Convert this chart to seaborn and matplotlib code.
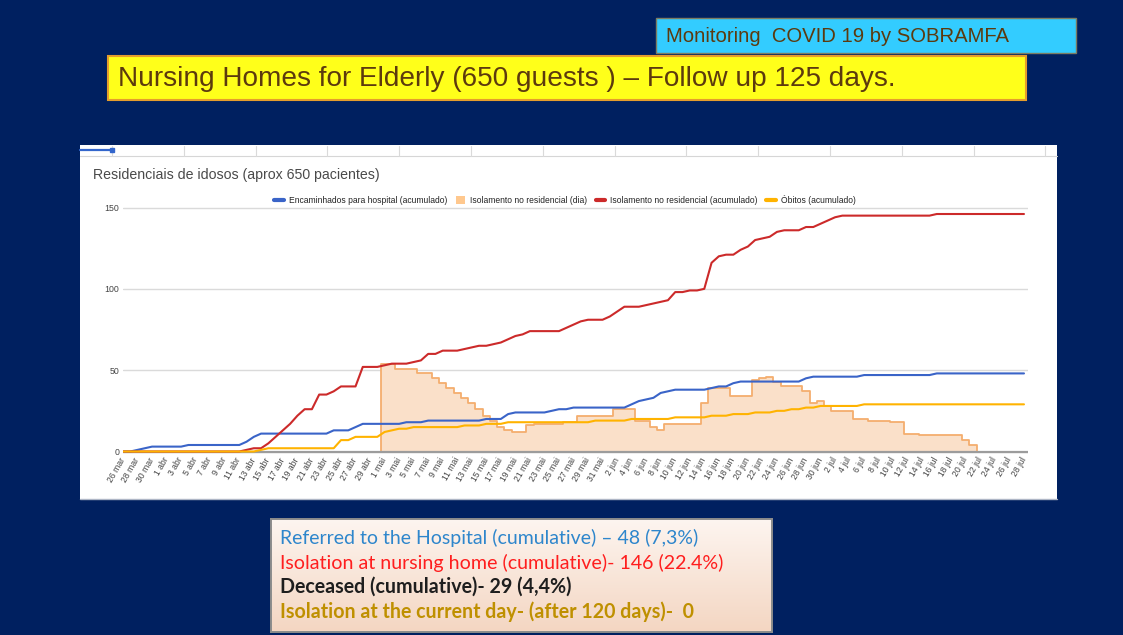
import numpy as np
import pandas as pd
import matplotlib
matplotlib.use("Agg")
import matplotlib.pyplot as plt
import seaborn as sns
from matplotlib.patches import Rectangle, Patch
from matplotlib.lines import Line2D
from matplotlib.colors import LinearSegmentedColormap

# ---------------- data ----------------
START_DATE = "2020-03-26"
N_DAYS = 125
MONTHS_PT = {3: "mar", 4: "abr", 5: "mai", 6: "jun", 7: "jul"}

hospital_cum = [
    0, 0, 1, 2, 3, 3, 3, 3, 3, 4,
    4, 4, 4, 4, 4, 4, 4, 6, 9, 11,
    11, 11, 11, 11, 11, 11, 11, 11, 11, 13,
    13, 13, 15, 17, 17, 17, 17, 17, 17, 18,
    18, 18, 19, 19, 19, 19, 19, 19, 19, 19,
    20, 20, 20, 23, 24, 24, 24, 24, 24, 25,
    26, 26, 27, 27, 27, 27, 27, 27, 27, 27,
    29, 31, 32, 33, 36, 37, 38, 38, 38, 38,
    38, 39, 40, 40, 42, 43, 43, 43, 43, 43,
    43, 43, 43, 43, 45, 46, 46, 46, 46, 46,
    46, 46, 47, 47, 47, 47, 47, 47, 47, 47,
    47, 47, 48, 48, 48, 48, 48, 48, 48, 48,
    48, 48, 48, 48, 48,
]

isolation_day = [
    0, 0, 0, 0, 0, 0, 0, 0, 0, 0,
    0, 0, 0, 0, 0, 0, 0, 0, 0, 0,
    0, 0, 0, 0, 0, 0, 0, 0, 0, 0,
    0, 0, 0, 0, 0, 0, 54, 54, 51, 51,
    51, 48, 48, 45, 42, 39, 36, 33, 30, 26,
    22, 19, 15, 13, 12, 12, 16, 17, 17, 17,
    17, 18, 18, 22, 22, 22, 22, 22, 26, 26,
    26, 19, 19, 15, 13, 17, 17, 17, 17, 17,
    30, 39, 39, 39, 34, 34, 34, 44, 45, 46,
    43, 40, 40, 40, 37, 30, 31, 28, 25, 25,
    25, 20, 20, 19, 19, 19, 18, 18, 11, 11,
    10, 10, 10, 10, 10, 10, 7, 4, 0, 0,
    0, 0, 0, 0, 0,
]

isolation_cum = [
    0, 0, 0, 0, 0, 0, 0, 0, 0, 0,
    0, 0, 0, 0, 0, 0, 0, 1, 2, 2,
    5, 9, 13, 17, 22, 26, 26, 35, 35, 37,
    40, 40, 40, 52, 52, 52, 53, 54, 54, 54,
    55, 56, 60, 60, 62, 62, 62, 63, 64, 65,
    65, 66, 67, 69, 71, 72, 74, 74, 74, 74,
    74, 76, 78, 80, 81, 81, 81, 83, 86, 89,
    89, 89, 90, 91, 92, 93, 98, 98, 99, 99,
    100, 116, 120, 121, 121, 124, 126, 130, 131, 132,
    135, 136, 136, 136, 138, 138, 140, 142, 144, 145,
    145, 145, 145, 145, 145, 145, 145, 145, 145, 145,
    145, 145, 146, 146, 146, 146, 146, 146, 146, 146,
    146, 146, 146, 146, 146,
]

deaths_cum = [
    0, 0, 0, 0, 0, 0, 0, 0, 0, 0,
    0, 0, 0, 0, 0, 0, 0, 0, 0, 1,
    2, 2, 2, 2, 2, 2, 2, 2, 2, 2,
    7, 7, 9, 9, 9, 9, 12, 13, 14, 14,
    15, 15, 15, 15, 15, 15, 15, 16, 16, 16,
    17, 17, 17, 18, 18, 18, 18, 18, 18, 18,
    18, 18, 18, 18, 18, 19, 19, 19, 19, 19,
    20, 20, 20, 20, 20, 20, 21, 21, 21, 21,
    21, 22, 22, 22, 23, 23, 23, 24, 24, 24,
    25, 25, 26, 26, 27, 27, 28, 28, 28, 28,
    28, 28, 29, 29, 29, 29, 29, 29, 29, 29,
    29, 29, 29, 29, 29, 29, 29, 29, 29, 29,
    29, 29, 29, 29, 29,
]

series_names = [
    "Encaminhados para hospital (acumulado)",
    "Isolamento no residencial (dia)",
    "Isolamento no residencial (acumulado)",
    "Óbitos (acumulado)",
]
y_ticks = [0, 50, 100, 150]

slide_tag = "Monitoring  COVID 19 by SOBRAMFA"
slide_title = "Nursing Homes for Elderly (650 guests ) – Follow up 125 days."
chart_title = "Residenciais de idosos (aprox 650 pacientes)"
summary_lines = [
    "Referred to the Hospital (cumulative) – 48 (7,3%)",
    "Isolation at nursing home (cumulative)- 146 (22.4%)",
    "Deceased (cumulative)- 29 (4,4%)",
    "Isolation at the current day- (after 120 days)-  0",
]

# ---------------- style ----------------
BLUE = "#3A64C8"
RED = "#CC2A2A"
YELLOW = "#FFB300"
ORANGE_EDGE = "#F4AE6E"
ORANGE_FILL = "#FAE0C9"
NAVY = "#002060"

W, H, DPI = 1123, 635, 100
sns.set_theme(style="white")
plt.rcParams["font.family"] = ["Liberation Sans", "DejaVu Sans"]

fig = plt.figure(figsize=(W / DPI, H / DPI), dpi=DPI)
fig.patch.set_facecolor(NAVY)
renderer = fig.canvas.get_renderer()


def fx(x):
    return x / W


def fy(y):
    return 1 - y / H


def box(x0, y0, x1, y1, **kw):
    r = Rectangle((fx(x0), fy(y1)), (x1 - x0) / W, (y1 - y0) / H,
                  transform=fig.transFigure, **kw)
    fig.add_artist(r)
    return r


def seg(xs, ys, **kw):
    fig.add_artist(Line2D([fx(v) for v in xs], [fy(v) for v in ys],
                          transform=fig.transFigure, **kw))


def fit_text(x, y, s, width_px, size0=12, **kw):
    t = fig.text(fx(x), fy(y), s, fontsize=size0, **kw)
    w = t.get_window_extent(renderer).width
    t.set_fontsize(size0 * width_px / w)
    return t


# ---------------- slide headers ----------------
box(656, 18, 1076, 53, facecolor="#33CCFF", edgecolor="#7C7C62", lw=1.0, zorder=-2)
fit_text(666, 36, slide_tag, 343, va="center", ha="left", color="#5C3A0E")

box(108, 56, 1026, 100, facecolor="#FFFF1A", edgecolor="#E59D2C", lw=1.5, zorder=-2)
fit_text(118, 79, slide_title, 780, va="center", ha="left", color="#5C3A0E")

# ---------------- chart card ----------------
box(80, 145, 1057, 499, facecolor="white", edgecolor="none", zorder=-3)
seg([80, 1057], [156, 156], color="#D6D6D6", lw=0.8, zorder=-1)
for k in range(14):
    xv = 112 + 71.8 * k
    if xv < 1057:
        seg([xv, xv], [146, 156], color="#DADADA", lw=0.8, zorder=-1)
seg([80, 112], [150, 150], color="#3366CC", lw=1.6, zorder=-1)
seg([112], [150], color="#3366CC", marker="s", markersize=2.5, lw=0, zorder=-1)
seg([80, 1057], [498.5, 498.5], color="#AEB6C6", lw=1.0, zorder=-1)

fit_text(93, 175, chart_title, 285, va="center", ha="left", color="#4A4A4A")

# ---------------- main axes ----------------
X0, DX = 123.0, 7.266
Y0, DY = 451.5, 244.0 / 150.0
xlim = (0, 124 + (1028 - 1024) / DX)
ylim = (-1.5, 152)
left, right = X0 + DX * xlim[0], X0 + DX * xlim[1]
bottom, top = Y0 - DY * ylim[0], Y0 - DY * ylim[1]
ax = fig.add_axes([fx(left), fy(bottom), (right - left) / W, (bottom - top) / H])
ax.set_facecolor("none")

dates = pd.date_range(START_DATE, periods=N_DAYS, freq="D")
day_idx = np.arange(N_DAYS)

lines_df = pd.DataFrame({
    "day": day_idx,
    series_names[0]: hospital_cum,
    series_names[2]: isolation_cum,
    series_names[3]: deaths_cum,
}).melt(id_vars="day", var_name="series", value_name="value")

# stepped area (daily isolation)
ax.fill_between(day_idx, isolation_day, step="mid", color=ORANGE_FILL, lw=0, zorder=1)
sns.lineplot(x=day_idx, y=isolation_day, drawstyle="steps-mid", color=ORANGE_EDGE,
             linewidth=1.3, ax=ax, zorder=1.5)

ax.axhline(0, color="#9C9C9C", lw=1.6, zorder=1.8)

sns.lineplot(data=lines_df, x="day", y="value", hue="series",
             hue_order=[series_names[0], series_names[2], series_names[3]],
             palette=[BLUE, RED, YELLOW], linewidth=1.5, ax=ax, legend=False,
             zorder=2)

ax.set_xlim(*xlim)
ax.set_ylim(*ylim)
for s in ax.spines.values():
    s.set_visible(False)
ax.set_yticks(y_ticks)
ax.set_yticklabels([str(v) for v in y_ticks])
ax.grid(axis="y", color="#DADADA", lw=1.0)
ax.grid(axis="x", visible=False)
ax.set_axisbelow(True)
ax.tick_params(axis="y", length=0, pad=2.5, labelsize=6.3, labelcolor="#444444")
ax.set_xlabel("")
ax.set_ylabel("")

tick_pos = day_idx[::2]
tick_labels = [f"{d.day} {MONTHS_PT[d.month]}" for d in dates[::2]]
ax.set_xticks(tick_pos)
ax.set_xticklabels(tick_labels, rotation=60, ha="right", va="center",
                   rotation_mode="anchor", fontsize=6.2, color="#444444")
ax.tick_params(axis="x", length=0, pad=3)

handles = [
    Line2D([], [], color=BLUE, lw=3),
    Patch(facecolor="#FFC88E", edgecolor="none"),
    Line2D([], [], color=RED, lw=3),
    Line2D([], [], color=YELLOW, lw=3),
]
leg = ax.legend(handles, series_names, loc="center",
                bbox_to_anchor=((565 - left) / (right - left), (bottom - 200) / (bottom - top)),
                ncol=4, frameon=False, fontsize=6.15, handlelength=1.1,
                handleheight=1.0, handletextpad=0.6, columnspacing=1.0,
                borderaxespad=0, borderpad=0)
for t in leg.get_texts():
    t.set_color("#222222")

# ---------------- summary box ----------------
axb = fig.add_axes([fx(271), fy(632), (772 - 271) / W, (632 - 519) / H])
grad = np.linspace(0, 1, 256).reshape(-1, 1)
cmap = LinearSegmentedColormap.from_list("peach", ["#FDF5F0", "#F4D6C2"])
axb.imshow(grad, aspect="auto", cmap=cmap, extent=(0, 1, 0, 1), origin="upper")
axb.set_xticks([])
axb.set_yticks([])
for s in axb.spines.values():
    s.set_color("#8C8C8C")
    s.set_linewidth(1.4)

line_specs = [
    (538, 417, "#2E86CC", "normal"),
    (562.5, 443, "#FF1E1E", "normal"),
    (587, 290, "#1E1E1E", "bold"),
    (611.5, 412, "#BF9000", "bold"),
]
for text, (yy, wpx, col, wt) in zip(summary_lines, line_specs):
    fit_text(280, yy, text, wpx, va="center", ha="left", color=col,
             fontweight=wt, family=["Lato", "DejaVu Sans"])

fig.savefig("out.png", dpi=DPI, facecolor=fig.get_facecolor())
